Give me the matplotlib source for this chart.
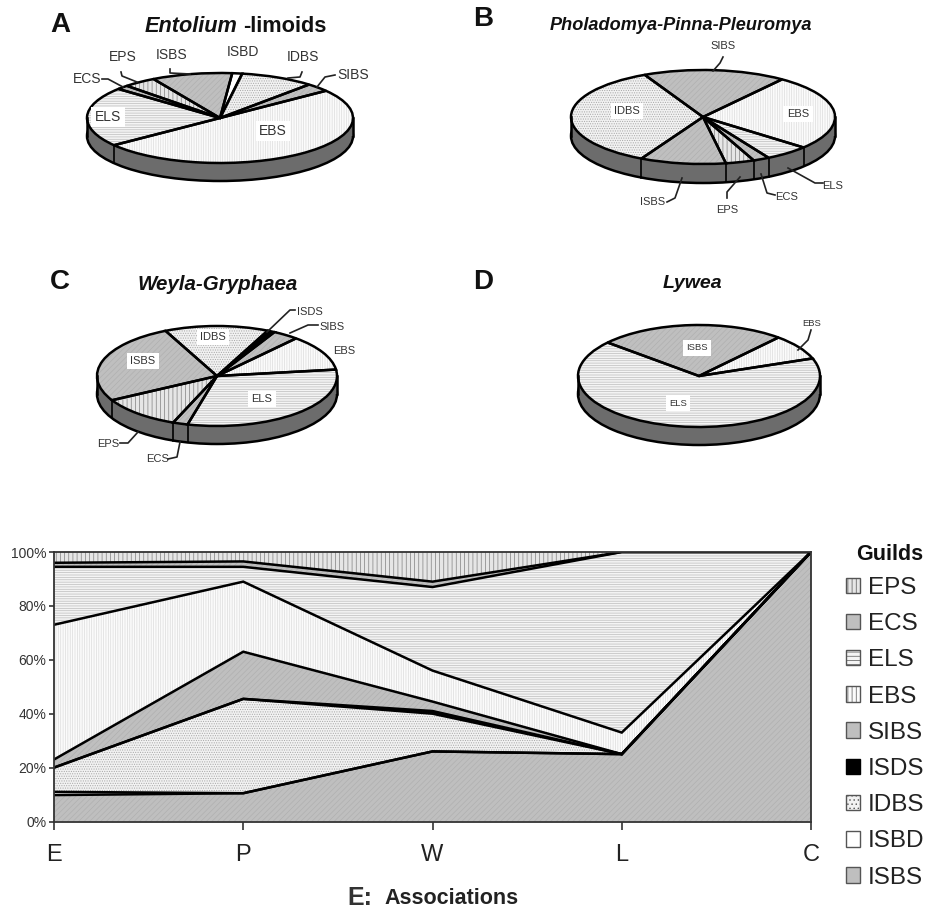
import numpy as np
import matplotlib
matplotlib.use("Agg")
import matplotlib.pyplot as plt
from matplotlib.patches import Circle, Rectangle, Patch

plt.rcParams['font.family'] = ['Liberation Sans', 'DejaVu Sans']
plt.rcParams['hatch.linewidth'] = 0.5

W, H = 927, 910

associations = ['E', 'P', 'W', 'L', 'C']
guilds = ['ISBS', 'ISBD', 'IDBS', 'ISDS', 'SIBS', 'EBS', 'ELS', 'ECS', 'EPS']

ISBS = [9.8, 10.5, 26.0, 25.0, 100.0]
ISBD = [1.2, 0.0, 0.0, 0.0, 0.0]
IDBS = [9.0, 35.0, 14.0, 0.0, 0.0]
ISDS = [0.0, 0.0, 1.0, 0.0, 0.0]
SIBS = [3.0, 17.5, 3.5, 0.0, 0.0]
EBS = [50.0, 26.0, 11.5, 8.0, 0.0]
ELS = [21.5, 5.5, 31.0, 67.0, 0.0]
ECS = [1.5, 2.0, 2.0, 0.0, 0.0]
EPS = [4.0, 3.5, 11.0, 0.0, 0.0]
series = [ISBS, ISBD, IDBS, ISDS, SIBS, EBS, ELS, ECS, EPS]

face = ['#bfbfbf', '#ffffff', '#f2f2f2', '#000000', '#bfbfbf', '#fbfbfb', '#f4f4f4', '#bfbfbf', '#e6e6e6']
hcol = ['#b0b0b0', '#ffffff', '#a8a8a8', '#000000', '#b0b0b0', '#dcdcdc', '#bcbcbc', '#b0b0b0', '#808080']
hatches = ['//////', '', '.......', '', '//////', '|||||||', '-------', '//////', '||||']

DARK = '#222222'
RIM = '#6c6c6c'


def px_axes(x0, y0, x1, y1):
    # pixel box (y down) to a figure axes
    return fig.add_axes([x0 / W, 1 - y1 / H, (x1 - x0) / W, (y1 - y0) / H])


def pie3d(col, start, cx, cy, a, b, depth):
    ax = px_axes(cx - 1.1 * a, cy - 1.1 * b, cx + 1.1 * a, cy + 1.1 * b + depth)
    d = depth / b
    ax.add_patch(Circle((0, -d), 1, fc=RIM, ec='k', lw=1.8))
    ax.add_patch(Rectangle((-1, -d), 2, d, fc=RIM, ec='none'))
    ax.plot([-1, -1], [0, -d], color='k', lw=1.8)
    ax.plot([1, 1], [0, -d], color='k', lw=1.8)
    idx = [i for i in range(len(series)) if series[i][col] > 0]
    vals = [series[i][col] for i in idx]
    wedges, _ = ax.pie(vals, startangle=start, counterclock=False, radius=1,
                       colors=[face[i] for i in idx], wedgeprops=dict(linewidth=0))
    for w, i in zip(wedges, idx):
        w.set_hatch(hatches[i])
        w.set_edgecolor(hcol[i])
    ax.pie(vals, startangle=start, counterclock=False, radius=1,
           wedgeprops=dict(fill=False, edgecolor='k', linewidth=1.8))
    # rim divisions on the front half
    ang = start - 360 * np.cumsum(vals) / np.sum(vals)
    for t in np.radians(ang):
        if np.sin(t) < 0:
            ax.plot([np.cos(t)] * 2, [np.sin(t), np.sin(t) - d], color='k', lw=1.2)
    ax.set_aspect('auto')
    ax.set_xlim(-1.1, 1.1)
    ax.set_ylim(-1.1 - d, 1.1)
    ax.axis('off')


fig = plt.figure(figsize=(W / 100, H / 100), dpi=100)

pie3d(0, 120, 220, 118, 133, 45, 18)
pie3d(1, 280, 703, 117, 132, 47, 19)
pie3d(2, 209, 217, 376, 120, 50, 18)
pie3d(3, 139, 699, 376, 121, 51, 18)

# stacked areas
ax = px_axes(54, 552, 811, 821.5)
xs = np.arange(len(associations))
polys = ax.stackplot(xs, *series, colors=face, linewidth=0)
for p, h, c in zip(polys, hatches, hcol):
    p.set_hatch(h)
    p.set_edgecolor(c)
tops = np.cumsum(np.array(series), axis=0)
for row in tops[:-1]:
    ax.plot(xs, row, color='k', lw=1.8, solid_joinstyle='miter')
ax.set_xlim(0, 4)
ax.set_ylim(0, 100)
ax.set_xticks(xs)
ax.set_xticklabels(associations, fontsize=17, color=DARK)
ax.set_yticks(range(0, 101, 20))
ax.set_yticklabels(['%d%%' % v for v in range(0, 101, 20)], fontsize=10, color='#333333')
ax.tick_params(axis='x', length=6, width=1.2, color='#333333', pad=10)
ax.tick_params(axis='y', length=3.5, width=1.2, color='#333333', pad=2)
for s in ax.spines.values():
    s.set_linewidth(1.3)
    s.set_color('#333333')

handles = [Patch(facecolor=face[i], edgecolor='#555555' if i != 3 else 'k', hatch=hatches[i].replace('//////', '')[:4],
                 linewidth=1.0) for i in range(len(guilds))][::-1]
leg = ax.legend(handles, guilds[::-1], loc='upper left',
                bbox_to_anchor=(841 / W, 1 - 572 / H), bbox_transform=fig.transFigure,
                frameon=False, fontsize=17.5, handlelength=0.6, handleheight=0.6,
                handletextpad=0.3, labelspacing=0.585, borderaxespad=0, borderpad=0.2,
                labelcolor=DARK)

# labels and leader lines, in pixels
lay = fig.add_axes([0, 0, 1, 1], zorder=5)
lay.set_xlim(0, W)
lay.set_ylim(H, 0)
lay.axis('off')


def note(x, y, s, size, box=False):
    kw = dict(fc='white', ec='none', pad=2.5) if box else None
    lay.text(x, y, s, fontsize=size, color='#333333', ha='center', va='center', bbox=kw)


def lead(*pts):
    p = np.array(pts)
    lay.plot(p[:, 0], p[:, 1], color='#222222', lw=1.2)


for x, y, s in [(60, 25, 'A'), (483, 19, 'B'), (60, 282, 'C'), (483, 282, 'D')]:
    lay.text(x, y, s, fontsize=20, fontweight='bold', color='#111111', ha='center', va='center')

lay.text(890, 555, 'Guilds', fontsize=15.5, fontweight='bold', color='#111111', ha='center', va='center')
lay.text(237, 27, 'Entolium', fontsize=15.7, fontweight='bold', style='italic', color='#111111', ha='right', va='center')
lay.text(243, 27, '-limoids', fontsize=15.7, fontweight='bold', color='#111111', ha='left', va='center')
lay.text(681, 26, 'Pholadomya-Pinna-Pleuromya', fontsize=13.1, fontweight='bold', style='italic', color='#111111', ha='center', va='center')
lay.text(218, 284, 'Weyla-Gryphaea', fontsize=14.8, fontweight='bold', style='italic', color='#111111', ha='center', va='center')
lay.text(692, 284, 'Lywea', fontsize=14, fontweight='bold', style='italic', color='#111111', ha='center', va='center')

note(87, 79, 'ECS', 10)
lead((102, 79), (108, 79), (123, 87))
note(123, 57, 'EPS', 10)
lead((121, 72), (122, 76), (137, 82))
note(172, 55, 'ISBS', 10)
lead((170, 69), (170, 73), (190, 74))
note(243, 52, 'ISBD', 10)
note(303, 57, 'IDBS', 10)
lead((302, 72), (300, 77), (288, 78))
note(353, 75, 'SIBS', 10)
lead((335, 75), (325, 77), (317, 87))
note(108, 117, 'ELS', 10, True)
note(273, 131, 'EBS', 10, True)

note(723, 46, 'SIBS', 8)
lead((723, 57), (720, 63), (713, 71))
note(627, 111, 'IDBS', 8, True)
note(798, 114, 'EBS', 8, True)
note(653, 202, 'ISBS', 8)
lead((667, 202), (675, 198), (682, 178))
note(727, 210, 'EPS', 8)
lead((727, 198), (727, 192), (740, 177))
note(787, 197, 'ECS', 8)
lead((775, 195), (767, 193), (761, 174))
note(833, 186, 'ELS', 8)
lead((823, 183), (815, 183), (788, 168))

note(310, 312, 'ISDS', 8)
lead((295, 310), (290, 310), (267, 332))
note(332, 327, 'SIBS', 8)
lead((318, 325), (308, 325), (290, 333))
note(344, 351, 'EBS', 8)
note(213, 337, 'IDBS', 8, True)
note(143, 361, 'ISBS', 8, True)
note(262, 399, 'ELS', 8, True)
note(108, 444, 'EPS', 8)
lead((120, 443), (128, 443), (138, 432))
note(158, 459, 'ECS', 8)
lead((168, 459), (177, 457), (180, 442))

note(812, 323, 'EBS', 6.8)
lead((811, 330), (808, 340), (798, 350))
note(697, 348, 'ISBS', 6.8, True)
note(678, 403, 'ELS', 6.8, True)

lay.text(360, 898, 'E:', fontsize=18, fontweight='bold', color='#333333', ha='center', va='center')
lay.text(452, 899, 'Associations', fontsize=15.5, fontweight='bold', color='#222222', ha='center', va='center')

fig.savefig('out.png', dpi=100)
